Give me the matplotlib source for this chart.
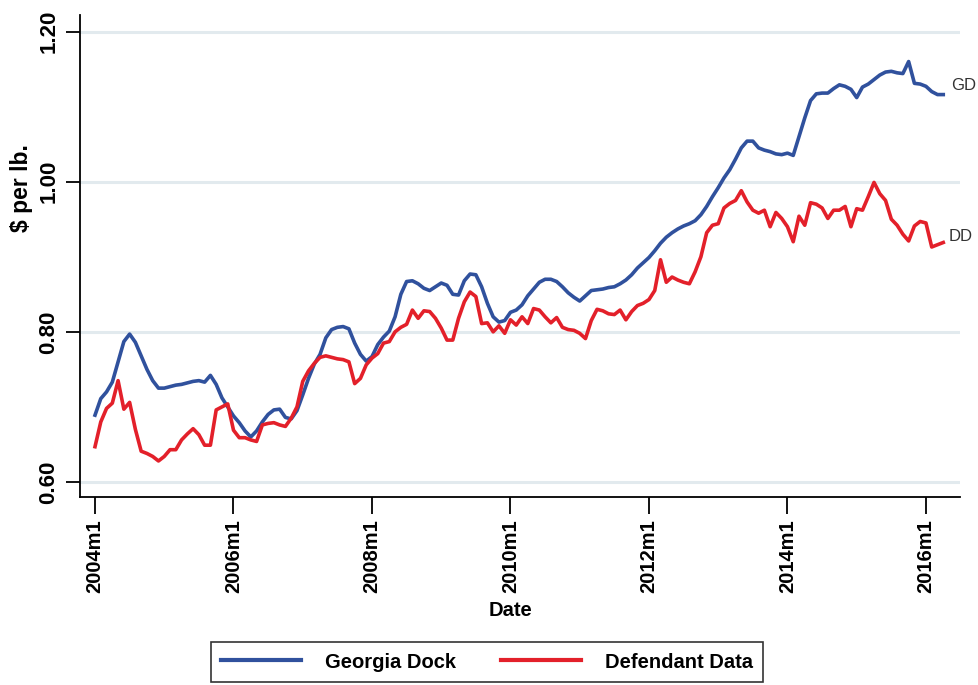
import matplotlib
matplotlib.use('Agg')
import matplotlib.pyplot as plt
import numpy as np

# Monthly series, 2004m1 .. 2016m4 ($ per lb.)
georgia_dock = [
    0.689, 0.711, 0.720, 0.733, 0.760, 0.787, 0.797, 0.786, 0.768, 0.750, 0.735, 0.725,
    0.725, 0.727, 0.729, 0.730, 0.732, 0.734, 0.735, 0.733, 0.742, 0.730, 0.712, 0.700,
    0.688, 0.679, 0.668, 0.660, 0.668, 0.680, 0.690, 0.696, 0.697, 0.686, 0.684, 0.695,
    0.716, 0.738, 0.757, 0.770, 0.792, 0.803, 0.806, 0.807, 0.804, 0.785, 0.770, 0.761,
    0.767, 0.783, 0.793, 0.801, 0.820, 0.850, 0.867, 0.868, 0.864, 0.858, 0.855, 0.860,
    0.865, 0.862, 0.850, 0.849, 0.868, 0.877, 0.876, 0.860, 0.838, 0.820, 0.813, 0.815,
    0.826, 0.829, 0.836, 0.848, 0.857, 0.866, 0.870, 0.870, 0.867, 0.860, 0.852, 0.846,
    0.841, 0.848, 0.855, 0.856, 0.857, 0.859, 0.860, 0.864, 0.869, 0.876, 0.885, 0.892,
    0.899, 0.908, 0.918, 0.926, 0.932, 0.937, 0.941, 0.944, 0.948, 0.956, 0.967, 0.980,
    0.992, 1.005, 1.016, 1.030, 1.045, 1.054, 1.054, 1.045, 1.042, 1.040, 1.037, 1.036,
    1.038, 1.035, 1.060, 1.085, 1.108, 1.117, 1.118, 1.118, 1.124, 1.129, 1.127, 1.123,
    1.112, 1.126, 1.130, 1.136, 1.142, 1.146, 1.147, 1.145, 1.144, 1.160, 1.131, 1.130,
    1.127, 1.120, 1.116, 1.116,
]
defendant_data = [
    0.647, 0.680, 0.698, 0.705, 0.735, 0.697, 0.706, 0.670, 0.641, 0.638, 0.634, 0.628,
    0.634, 0.643, 0.643, 0.656, 0.664, 0.671, 0.663, 0.649, 0.649, 0.696, 0.700, 0.704,
    0.669, 0.659, 0.659, 0.656, 0.654, 0.676, 0.678, 0.679, 0.676, 0.674, 0.685, 0.700,
    0.734, 0.748, 0.758, 0.766, 0.768, 0.766, 0.764, 0.763, 0.760, 0.731, 0.738, 0.756,
    0.765, 0.771, 0.785, 0.787, 0.800, 0.806, 0.810, 0.829, 0.818, 0.828, 0.827, 0.818,
    0.805, 0.789, 0.789, 0.818, 0.840, 0.853, 0.847, 0.811, 0.812, 0.800, 0.808, 0.798,
    0.816, 0.809, 0.820, 0.811, 0.831, 0.829, 0.820, 0.812, 0.819, 0.806, 0.803, 0.802,
    0.798, 0.791, 0.815, 0.830, 0.828, 0.824, 0.823, 0.829, 0.816, 0.827, 0.835, 0.838,
    0.843, 0.855, 0.896, 0.866, 0.873, 0.869, 0.866, 0.864, 0.880, 0.900, 0.932, 0.942,
    0.944, 0.965, 0.971, 0.975, 0.988, 0.973, 0.962, 0.958, 0.962, 0.940, 0.959, 0.951,
    0.940, 0.920, 0.954, 0.942, 0.972, 0.970, 0.965, 0.951, 0.962, 0.962, 0.967, 0.940,
    0.964, 0.962, 0.980, 0.999, 0.984, 0.975, 0.950, 0.942, 0.930, 0.921, 0.941, 0.947,
    0.945, 0.913, 0.916, 0.919,
]
months = np.arange(len(georgia_dock))
tick_labels = ['2004m1', '2006m1', '2008m1', '2010m1', '2012m1', '2014m1', '2016m1']
y_ticks = [0.60, 0.80, 1.00, 1.20]

plt.rcParams['font.family'] = ['Liberation Sans', 'DejaVu Sans']

fig = plt.figure(figsize=(9.79, 6.85), dpi=100)
ax = fig.add_axes([80 / 979, 1 - 497 / 685, 880 / 979, 482 / 685])

blue = '#30519d'
red = '#e3202a'
ax.plot(months, georgia_dock, color=blue, lw=2.6, label='Georgia Dock', zorder=3)
ax.plot(months, defendant_data, color=red, lw=2.6, label='Defendant Data', zorder=3)

# end labels
ax.annotate('GD', (months[-1], georgia_dock[-1] + 0.012), xytext=(6, 0),
            textcoords='offset points', va='center', ha='left', fontsize=12, color='#333333')
ax.annotate('DD', (months[-1], defendant_data[-1] + 0.008), xytext=(4, 0),
            textcoords='offset points', va='center', ha='left', fontsize=12, color='#333333')

for v in y_ticks:
    ax.axhline(v, color='#e2eaee', lw=2.2, zorder=1)

ax.set_xlim(-2.6, 149.9)
ax.set_ylim(0.58, 1.222)
ax.set_xticks(np.arange(0, 145, 24))
ax.set_xticklabels(tick_labels, rotation=90, fontsize=14.5, fontweight='bold')
ax.set_yticks(y_ticks)
ax.set_yticklabels(['%.2f' % v for v in y_ticks], rotation=90, va='center',
                   fontsize=16, fontweight='bold')
ax.tick_params(axis='x', length=12, width=1.3, pad=4)
ax.tick_params(axis='y', length=10, width=1.3, pad=5)

for s in ['top', 'right']:
    ax.spines[s].set_visible(False)
for s in ['left', 'bottom']:
    ax.spines[s].set_linewidth(1.3)

ax.set_xlabel('Date', fontsize=14.5, fontweight='bold')
ax.xaxis.set_label_coords(0.489, -0.215)
ax.set_ylabel('$ per lb.', fontsize=16.5, fontweight='bold')
ax.yaxis.set_label_coords(-0.053, 0.641)

leg = fig.legend(loc='center', bbox_to_anchor=(487 / 979, 1 - 662 / 685), ncol=2,
                 frameon=True, fancybox=False, edgecolor='black',
                 handlelength=4.0, columnspacing=2.2, handletextpad=1.2,
                 prop={'size': 14.5, 'weight': 'bold'}, borderpad=0.5)
leg.get_frame().set_linewidth(1.2)
for line in leg.get_lines():
    line.set_linewidth(3)

fig.savefig('out.png', dpi=100)
